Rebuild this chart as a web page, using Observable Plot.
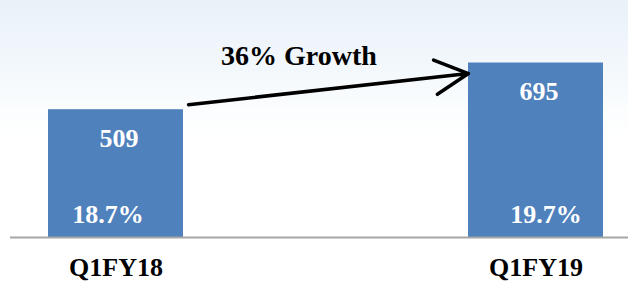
<!DOCTYPE html>
<html>
<head>
<meta charset="utf-8">
<script src="https://cdn.jsdelivr.net/npm/d3@7"></script>
<script src="https://cdn.jsdelivr.net/npm/@observablehq/plot@0.6"></script>
<style>
  html, body { margin: 0; padding: 0; }
  body {
    width: 628px; height: 284px; overflow: hidden;
    background: linear-gradient(180deg, #e9f1f9 0px, #f3f8fc 70px, #fbfdfe 110px, #ffffff 140px);
  }
  svg { display: block; background: transparent !important; }
  svg, svg text, svg g { font-family: "Liberation Serif", "Times New Roman", serif !important; }
</style>
</head>
<body>
<div id="chart"></div>
<script>
const categories = ["Q1FY18", "Q1FY19"];
const values = [509, 695];
const shares = ["18.7%", "19.7%"];
const growthLabel = "36% Growth";

const data = categories.map((c, i) => ({ cat: c, value: values[i], share: shares[i] }));

const chart = Plot.plot({
  width: 628,
  height: 284,
  marginTop: 0,
  marginBottom: 47,
  marginLeft: 10,
  marginRight: 0,
  style: { background: "transparent" },
  x: { domain: categories, paddingInner: 0.679, paddingOuter: 0.075, align: 0.6, label: null },
  y: { domain: [0, 944], axis: null },
  marks: [
    Plot.barY(data, { x: "cat", y: "value", fill: "#4f81bd" }),
    Plot.ruleY([0], { stroke: "#a6a6a6", strokeWidth: 2 }),
    Plot.text(data, { x: "cat", y: "value", text: d => String(d.value), dy: 29, dx: 3, fill: "white", fontSize: 26, fontWeight: "bold" }),
    Plot.text(data.slice(0, 1), { x: "cat", y: () => 0, text: "share", dy: -23, dx: -8, fill: "white", fontSize: 26, fontWeight: "bold" }),
    Plot.text(data.slice(1), { x: "cat", y: () => 0, text: "share", dy: -23, dx: 10, fill: "white", fontSize: 26, fontWeight: "bold" }),
    Plot.arrow([{ a: categories[0], b: categories[1], va: values[0], vb: values[1] }], {
      x1: "a", y1: "va", x2: "b", y2: "vb",
      insetStart: 73, insetEnd: 68, dy: 3,
      stroke: "black", strokeWidth: 3.5, headLength: 16, headAngle: 55
    }),
    Plot.text([growthLabel], { x: () => categories[1], y: () => values[1], text: d => d, dx: -237, dy: -7, fill: "black", fontSize: 28, fontWeight: "bold" }),
    Plot.axisX({ tickSize: 0, tickPadding: 20, fontSize: 26, fontWeight: "bold", fill: "black", label: null })
  ]
});
document.getElementById("chart").appendChild(chart);
</script>
</body>
</html>
